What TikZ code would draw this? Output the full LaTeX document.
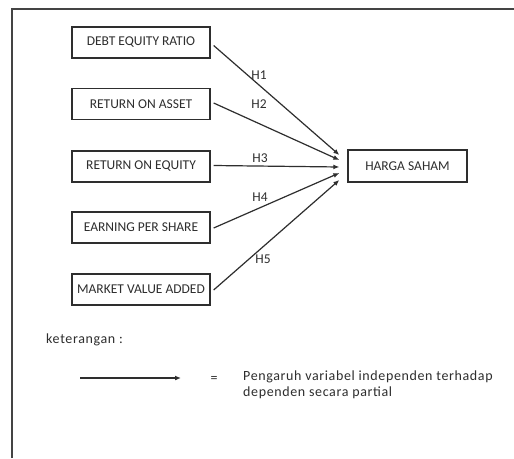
\documentclass[tikz,border=0pt]{standalone}
\usepackage{fontspec}
\setmainfont{Carlito}
\usetikzlibrary{arrows.meta,calc}
\definecolor{ink}{HTML}{2E2E2E}
\definecolor{framec}{HTML}{444444}
\tikzset{
  varbox/.style={draw=ink, line width=1.3pt, minimum width=138pt, minimum height=31pt, inner sep=0pt, text=ink, font=\fontsize{13.5}{15}\selectfont},
  hyp/.style={text=ink, font=\fontsize{13.5}{15}\selectfont, inner sep=0pt},
  conn/.style={draw=ink, line width=1.2pt, -{Latex[length=6pt,width=5pt]}},
  legtext/.style={text=ink, font=\fontsize{14}{16}\selectfont\addfontfeatures{LetterSpace=4.5}, inner sep=0pt}
}
\begin{document}
\begin{tikzpicture}[x=1pt,y=-1pt]
\useasboundingbox[fill=white] (0,0) rectangle (514,458);
\draw[framec, line width=2pt] (12,458) -- (12,9) -- (514,9);
\node[varbox] (der) at (141,42.5) {DEBT EQUITY RATIO};
\node[varbox] (roa) at (141,104) {RETURN ON ASSET};
\node[varbox] (roe) at (141,166.5) {RETURN ON EQUITY};
\node[varbox] (eps) at (141,227.5) {EARNING PER SHARE};
\node[varbox] (mva) at (141,289.5) {MARKET VALUE ADDED};
\node[varbox, minimum width=119pt, minimum height=32pt] (hs) at (407.5,166) {HARGA SAHAM};
\coordinate (e1) at ($(hs.west)+(-8,-11)$);
\coordinate (e2) at ($(hs.west)+(-8,-6)$);
\coordinate (e3) at ($(hs.west)+(-8,1)$);
\coordinate (e4) at ($(hs.west)+(-8,7)$);
\coordinate (e5) at ($(hs.west)+(-8,14)$);
\draw[conn] ($(der.east)+(3,3)$) -- (e1);
\draw[conn] ($(roa.east)+(3,-1)$) -- (e2);
\draw[conn] ($(roe.east)+(3,-1)$) -- (e3);
\draw[conn] ($(eps.east)+(3,0.5)$) -- (e4);
\draw[conn] ($(mva.east)+(3,0.5)$) -- (e5);
\node[hyp] (h1) at (259,75) {H1};
\node[hyp] (h2) at (259,104) {H2};
\node[hyp] (h3) at (260,158) {H3};
\node[hyp] (h4) at (260,197) {H4};
\node[hyp] (h5) at (263,259) {H5};
\node[legtext, anchor=west] (ket) at (46,340) {keterangan :};
\coordinate (la) at (80,378);
\coordinate (lb) at (181,378);
\draw[draw=ink, line width=1.2pt, -{Latex[length=6pt,width=5pt]}] (la) -- (lb);
\node[legtext] (eq) at (214,379) {=};
\node[legtext, anchor=north west, align=left] (desc) at (243,371) {Pengaruh variabel independen terhadap\\dependen secara partial};
\end{tikzpicture}
\end{document}
